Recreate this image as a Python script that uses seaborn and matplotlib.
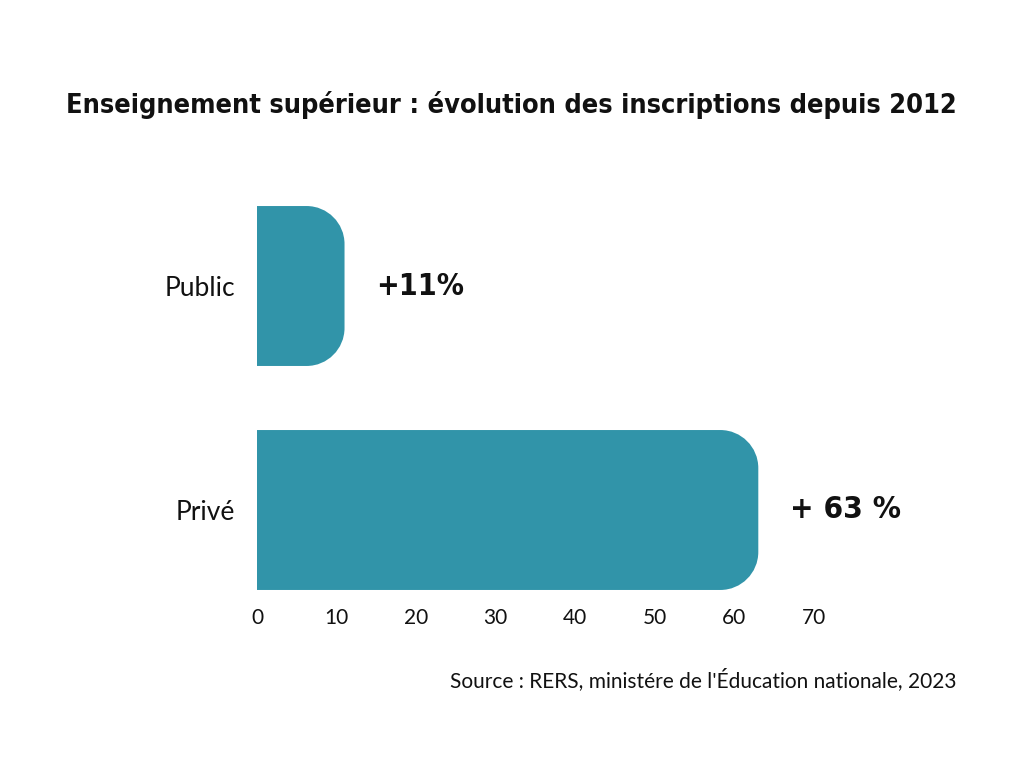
import matplotlib
matplotlib.use("Agg")
import matplotlib.pyplot as plt
from matplotlib import font_manager as fm
from matplotlib.path import Path
from matplotlib.patches import PathPatch
import seaborn as sns
import pandas as pd

# ---- data ----
categories = ["Public", "Privé"]
growth = [11, 63]
value_labels = ["+11%", "+ 63 %"]
x_ticks = [0, 10, 20, 30, 40, 50, 60, 70]
title_text = "Enseignement supérieur : évolution des inscriptions depuis 2012"
source_text = "Source : RERS, ministére de l'Éducation nationale, 2023"

BAR_COLOR = "#3194A9"

sns.set_theme(style="white")
names = {f.name for f in fm.fontManager.ttflist}
if "Liberation Sans Narrow" in names:
    cond_fp = fm.FontProperties(family="Liberation Sans Narrow", weight="bold")
else:
    cond_fp = fm.FontProperties(family="DejaVu Sans", stretch="condensed", weight="bold")
body_family = "Lato" if "Lato" in names else "DejaVu Sans"
plt.rcParams["font.family"] = [body_family, "DejaVu Sans"]

W, H = 1024, 768
fig = plt.figure(figsize=(W / 100, H / 100), dpi=100)
ax_left, ax_right, ax_top, ax_bot = 257, 814, 180, 600
ax = fig.add_axes([ax_left / W, 1 - ax_bot / H, (ax_right - ax_left) / W, (ax_bot - ax_top) / H])

df = pd.DataFrame({"cat": categories, "val": growth})
sns.barplot(data=df, x="val", y="cat", orient="h", color=BAR_COLOR, width=0.714,
            saturation=1, ax=ax, edgecolor="none")

ax.set_xlim(0, 70)
unit = 224.0
ax.set_ylim((ax_bot - 286) / unit, -(286 - ax_top) / unit)
ax.set_xticks(x_ticks)
ax.set_xticklabels([str(t) for t in x_ticks], fontsize=15, color="#111111")
ax.tick_params(axis="x", length=0, pad=6)
ax.tick_params(axis="y", length=0, pad=16, labelsize=19, labelcolor="#111111")
ax.set_xlabel("")
ax.set_ylabel("")
for s in ax.spines.values():
    s.set_visible(False)
ax.grid(False)

# rounded right ends
fig.canvas.draw()
px_per_x = (ax_right - ax_left) / 70.0
rad_px = 38
rx = rad_px / px_per_x
ry = rad_px / unit
k = 0.5523
for p in list(ax.patches):
    x0, y0 = p.get_x(), p.get_y()
    w, h = p.get_width(), p.get_height()
    x1, y1 = x0 + w, y0 + h
    r_x = min(rx, w)
    verts = [
        (x0, y0),
        (x1 - r_x, y0),
        (x1 - r_x + k * r_x, y0), (x1, y0 + ry - k * ry), (x1, y0 + ry),
        (x1, y1 - ry),
        (x1, y1 - ry + k * ry), (x1 - r_x + k * r_x, y1), (x1 - r_x, y1),
        (x0, y1),
        (x0, y0),
    ]
    codes = [Path.MOVETO, Path.LINETO,
             Path.CURVE4, Path.CURVE4, Path.CURVE4,
             Path.LINETO,
             Path.CURVE4, Path.CURVE4, Path.CURVE4,
             Path.LINETO, Path.CLOSEPOLY]
    newp = PathPatch(Path(verts, codes), facecolor=BAR_COLOR, edgecolor="none")
    p.set_visible(False)
    ax.add_patch(newp)

r = fig.canvas.get_renderer()

def fit(txt, fp, base, target_px, boost=1.0):
    fig.canvas.draw()
    w = txt.get_window_extent(r).width
    fp2 = fp.copy()
    fp2.set_size(base * target_px / w * boost)
    txt.set_fontproperties(fp2)

# value labels
label_targets = [65, 82]
for i, (v, lab, tw) in enumerate(zip(growth, value_labels, label_targets)):
    fp = cond_fp.copy()
    fp.set_size(30)
    t = ax.annotate(lab, xy=(v, i), xytext=(23, 0), textcoords="offset points",
                    ha="left", va="center", fontproperties=fp, color="#111111")
    fit(t, fp, 30, tw, 1.35)

# title fitted to width
t_fp = cond_fp.copy()
t_fp.set_size(40)
title = fig.text(511 / W, 1 - 105 / H, title_text, ha="center", va="center",
                 fontproperties=t_fp, color="#111111")
fit(title, t_fp, 40, 893, 1.0)

s_fp = fm.FontProperties(family=[body_family, "DejaVu Sans"], size=13)
src = fig.text(957 / W, 1 - 680 / H, source_text, ha="right", va="center",
               fontproperties=s_fp, color="#111111")
fit(src, s_fp, 13, 506, 1.0)

fig.savefig("out.png", dpi=100, facecolor="white")
